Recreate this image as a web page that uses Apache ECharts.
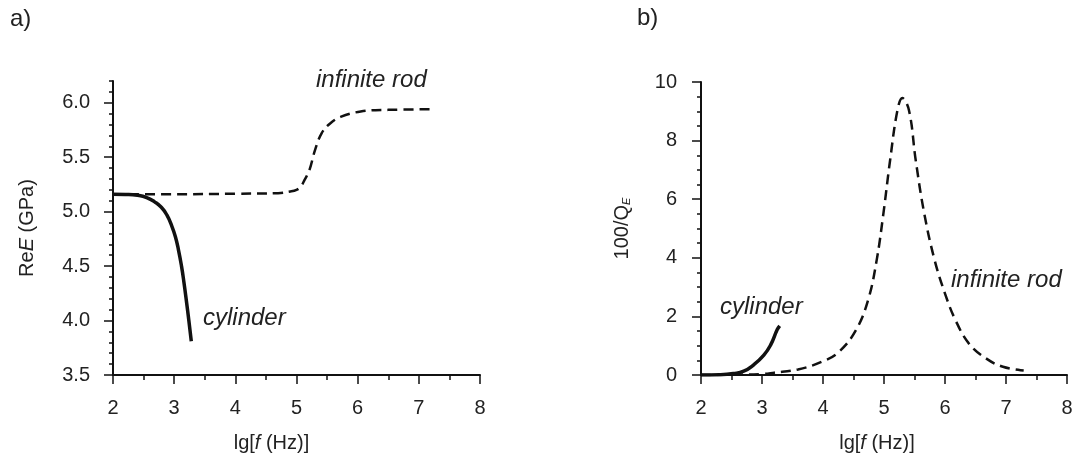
<!DOCTYPE html>
<html>
<head>
<meta charset="utf-8">
<script src="https://cdn.jsdelivr.net/npm/echarts@6/dist/echarts.min.js"></script>
<style>
  html, body { margin: 0; padding: 0; background: #fff; }
  #chart { width: 1078px; height: 459px; }
</style>
</head>
<body>
<div id="chart"></div>
<script>
// tick values
var xTicks = [2, 3, 4, 5, 6, 7, 8]
var reTicks = [3.5, 4.0, 4.5, 5.0, 5.5, 6.0]
var qTicks = [0, 2, 4, 6, 8, 10]

// a) ReE, [lg f, GPa]
var reCylinder = [[2, 5.16], [2.2, 5.158], [2.4, 5.15], [2.55, 5.13], [2.68, 5.09], [2.79, 5.04],
  [2.88, 4.97], [2.96, 4.87], [3.02, 4.77], [3.07, 4.65], [3.12, 4.5], [3.16, 4.35], [3.2, 4.18],
  [3.24, 4.0], [3.28, 3.81]]
var reRod = [[2, 5.16], [3, 5.16], [4, 5.165], [4.7, 5.17], [4.9, 5.185], [5.0, 5.2], [5.07, 5.23],
  [5.13, 5.29], [5.21, 5.38], [5.3, 5.56], [5.41, 5.72], [5.55, 5.81], [5.72, 5.87], [6.05, 5.92],
  [6.5, 5.935], [7.2, 5.94]]

// b) 100/Q_E
var qCylinder = [[2, 0], [2.3, 0.01], [2.53, 0.05], [2.7, 0.13], [2.86, 0.34], [3.03, 0.68],
  [3.14, 1.02], [3.25, 1.55], [3.29, 1.68]]
var qRod = [[2, 0], [2.5, 0.01], [2.98, 0.03], [3.2, 0.08], [3.59, 0.19], [3.98, 0.45], [4.26, 0.79],
  [4.54, 1.53], [4.74, 2.56], [4.88, 3.92], [4.99, 5.51], [5.1, 7.33], [5.22, 9.03], [5.3, 9.45],
  [5.41, 9.03], [5.52, 7.33], [5.66, 5.51], [5.83, 3.92], [6.0, 2.78], [6.17, 1.88], [6.39, 1.08],
  [6.67, 0.57], [6.95, 0.28], [7.29, 0.15]]

var FONT = 'Liberation Sans'
var TXT = '#222'
var INK = '#111'

function xAxisOf (gridIndex, shift) {
  return {
    type: 'value', gridIndex: gridIndex,
    min: xTicks[0], max: xTicks[xTicks.length - 1], interval: 1,
    name: '{a|lg[}{i|f}{a| (Hz)]}',
    nameLocation: 'middle', nameGap: 58,
    nameTextStyle: {
      padding: [0, shift, 0, 0],
      rich: {
        a: { fontFamily: FONT, fontSize: 20, color: TXT },
        i: { fontFamily: FONT, fontSize: 20, color: TXT, fontStyle: 'italic' }
      }
    },
    axisLine: { lineStyle: { color: INK, width: 2 } },
    axisTick: { length: 9, lineStyle: { color: INK, width: 1.5 } },
    minorTick: { show: true, splitNumber: 2, length: 5, lineStyle: { color: INK, width: 1.5 } },
    axisLabel: { margin: 23, fontFamily: FONT, fontSize: 20, color: TXT },
    splitLine: { show: false }
  }
}

var myChart = echarts.init(document.getElementById('chart'))
myChart.setOption({
  animation: false,
  grid: [
    { left: 113, top: 81, width: 367, height: 294 },
    { left: 701, top: 82, width: 366, height: 293 }
  ],
  xAxis: [xAxisOf(0, 50), xAxisOf(1, 14)],
  yAxis: [
    {
      type: 'value', gridIndex: 0, position: 'left', min: 3.5, max: 6.2,
      name: '{a|Re}{i|E}{a| (GPa)}', nameLocation: 'middle', nameGap: 76,
      nameTextStyle: {
        rich: {
          a: { fontFamily: FONT, fontSize: 20, color: TXT },
          i: { fontFamily: FONT, fontSize: 20, color: TXT, fontStyle: 'italic' }
        }
      },
      axisLine: { lineStyle: { color: INK, width: 2 } },
      axisTick: { length: 9, customValues: reTicks, lineStyle: { color: INK, width: 1.5 } },
      axisLabel: {
        margin: 23, customValues: reTicks, fontFamily: FONT, fontSize: 20, color: TXT,
        formatter: function (v) { return v.toFixed(1) }
      },
      splitLine: { show: false }
    },
    {
      // minor ticks of panel a
      type: 'value', gridIndex: 0, position: 'left', offset: 0, min: 3.5, max: 6.2, interval: 0.1,
      axisLine: { show: false },
      axisTick: { length: 4, lineStyle: { color: INK, width: 1.5 } },
      axisLabel: { show: false },
      splitLine: { show: false }
    },
    {
      type: 'value', gridIndex: 1, min: qTicks[0], max: qTicks[qTicks.length - 1], interval: 2,
      name: '{a|100/Q}{s|E}', nameLocation: 'middle', nameGap: 69,
      nameTextStyle: {
        rich: {
          a: { fontFamily: FONT, fontSize: 20, color: TXT },
          s: { fontFamily: FONT, fontSize: 11, color: TXT, fontStyle: 'italic', padding: [9, 0, 0, 0] }
        }
      },
      axisLine: { lineStyle: { color: INK, width: 2 } },
      axisTick: { length: 9, lineStyle: { color: INK, width: 1.5 } },
      minorTick: { show: true, splitNumber: 4, length: 4, lineStyle: { color: INK, width: 1.5 } },
      axisLabel: { margin: 24, fontFamily: FONT, fontSize: 20, color: TXT },
      splitLine: { show: false }
    }
  ],
  series: [
    {
      name: 'infinite rod', type: 'line', xAxisIndex: 0, yAxisIndex: 0, data: reRod,
      smooth: 0.4, showSymbol: false, lineStyle: { color: INK, width: 2.5, type: [10, 6] }
    },
    {
      name: 'cylinder', type: 'line', xAxisIndex: 0, yAxisIndex: 0, data: reCylinder,
      smooth: 0.5, showSymbol: false, lineStyle: { color: INK, width: 3.5 }
    },
    {
      name: 'infinite rod', type: 'line', xAxisIndex: 1, yAxisIndex: 2, data: qRod,
      smooth: 0.4, showSymbol: false, lineStyle: { color: INK, width: 2.5, type: [10, 6] }
    },
    {
      name: 'cylinder', type: 'line', xAxisIndex: 1, yAxisIndex: 2, data: qCylinder,
      smooth: 0.5, showSymbol: false, lineStyle: { color: INK, width: 3.5 }
    }
  ],
  graphic: [
    { type: 'text', left: 10, top: 7, style: { text: 'a)', font: '24px "Liberation Sans"', fill: TXT } },
    { type: 'text', left: 637, top: 6, style: { text: 'b)', font: '24px "Liberation Sans"', fill: TXT } },
    { type: 'text', x: 316, y: 80, style: { text: 'infinite rod', font: 'italic 24px "Liberation Sans"', fill: TXT, verticalAlign: 'middle' } },
    { type: 'text', x: 203, y: 318, style: { text: 'cylinder', font: 'italic 24px "Liberation Sans"', fill: TXT, verticalAlign: 'middle' } },
    { type: 'text', x: 720, y: 307, style: { text: 'cylinder', font: 'italic 24px "Liberation Sans"', fill: TXT, verticalAlign: 'middle' } },
    { type: 'text', x: 951, y: 280, style: { text: 'infinite rod', font: 'italic 24px "Liberation Sans"', fill: TXT, verticalAlign: 'middle' } }
  ]
})
</script>
</body>
</html>
